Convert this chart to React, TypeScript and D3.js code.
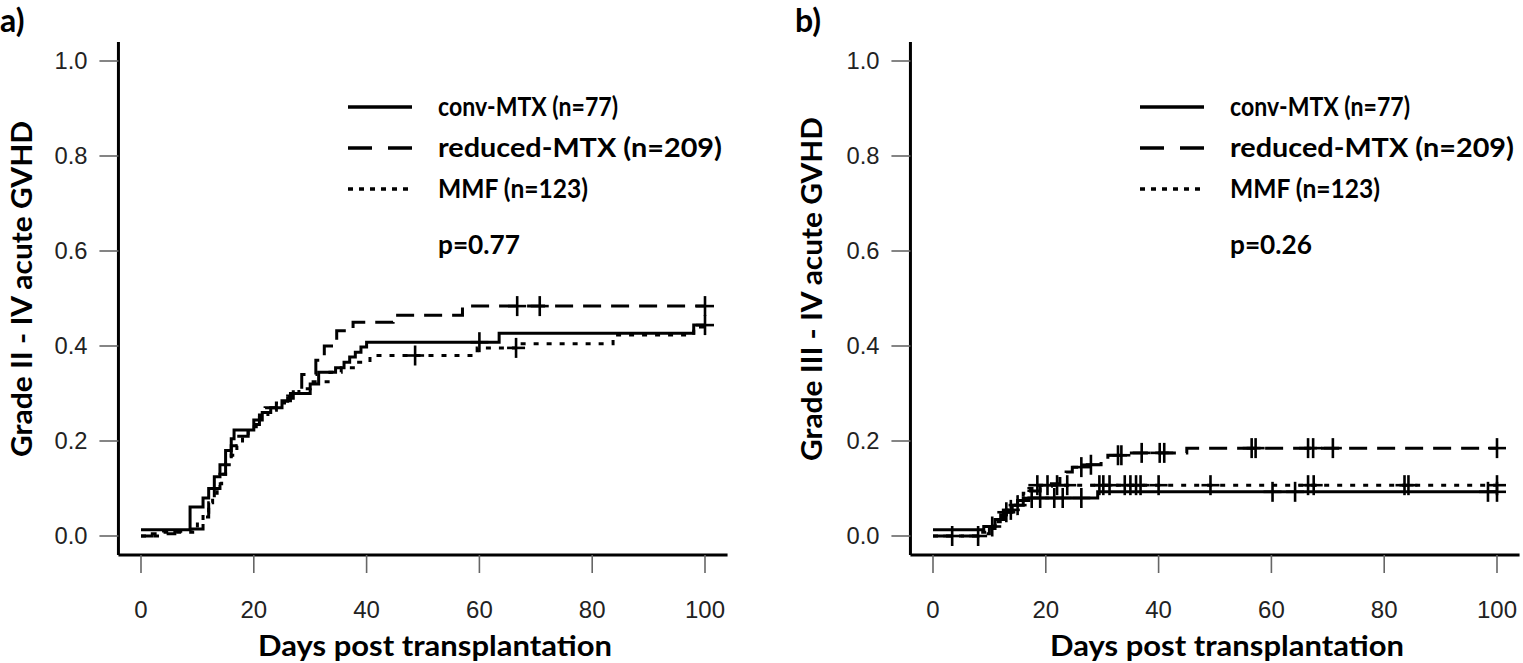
import React from "react";
import * as d3 from "d3";

// ---------- DATA ----------
const xTicks = [0, 20, 40, 60, 80, 100];
const yTicks = [0, 0.2, 0.4, 0.6, 0.8, 1.0];

const legendLabels = ["conv-MTX (n=77)", "reduced-MTX (n=209)", "MMF (n=123)"];
const panelLetters = ["a)", "b)"];
const pValues = ["p=0.77", "p=0.26"];
const yTitles = ["Grade II - IV acute GVHD", "Grade III - IV acute GVHD"];
const xTitle = "Days post transplantation";

// Panel a – step functions (day where step begins, cumulative incidence)
const aConvDays = [0, 8.7, 11, 12, 13, 14, 15, 16, 16.5, 20, 21.5, 23, 25, 26.5, 30, 31.5, 34.5, 36, 37, 38, 39, 40, 63.5, 98, 100];
const aConvCI = [0.013, 0.061, 0.08, 0.1, 0.125, 0.15, 0.18, 0.205, 0.223, 0.244, 0.26, 0.27, 0.285, 0.3, 0.32, 0.345, 0.354, 0.366, 0.377, 0.387, 0.398, 0.408, 0.427, 0.444, 0.444];
const aConvCens = [60, 100];

const aRedDays = [0, 2, 6, 9, 11, 12, 13, 14, 15, 16, 17, 19, 21, 22, 24, 26, 27, 28.5, 31, 32.5, 34.7, 37.6, 44.7, 57, 100];
const aRedCI = [0, 0.005, 0.01, 0.015, 0.04, 0.07, 0.1, 0.13, 0.16, 0.19, 0.21, 0.235, 0.255, 0.27, 0.28, 0.29, 0.31, 0.34, 0.37, 0.4, 0.432, 0.45, 0.465, 0.484, 0.484];
const aRedCens = [66.7, 70.7, 100];

const aMmfDays = [0, 4, 10, 11, 12, 12.7, 13.5, 14.3, 15, 16, 17, 18, 19, 21, 22.5, 24, 26, 28, 30, 33.5, 35.5, 38, 40.6, 59.6, 66.7, 83.7, 98, 100];
const aMmfCI = [0, 0.008, 0.03, 0.05, 0.07, 0.09, 0.11, 0.13, 0.15, 0.17, 0.19, 0.21, 0.23, 0.25, 0.265, 0.28, 0.295, 0.31, 0.325, 0.345, 0.354, 0.366, 0.38, 0.396, 0.405, 0.423, 0.44, 0.44];
const aMmfCens = [48.6, 66.5];

// Panel b
const bConvDays = [0, 9, 11, 12.5, 14, 16, 17, 29.2, 100];
const bConvCI = [0.013, 0.02, 0.035, 0.05, 0.065, 0.075, 0.08, 0.093, 0.093];
const bConvCens = [13, 15, 17.5, 19, 21.5, 23, 26.3, 60.2, 64.2, 98.4, 100];

const bRedDays = [0, 8, 10, 11, 12, 13, 14, 15, 16, 17, 19, 21, 22.5, 23.6, 24.7, 27, 29.8, 31, 34.5, 45, 100];
const bRedCI = [0, 0.005, 0.02, 0.03, 0.045, 0.055, 0.065, 0.075, 0.085, 0.095, 0.105, 0.11, 0.125, 0.135, 0.145, 0.15, 0.16, 0.17, 0.175, 0.185, 0.185];
const bRedCens = [10.5, 13.8, 26.3, 28, 32.8, 33.4, 37, 40.2, 41, 56.5, 57.2, 66.5, 67.4, 70.9, 100];

const bMmfDays = [0, 8.5, 10, 11, 12.5, 14, 15, 16, 17, 18, 100];
const bMmfCI = [0, 0.008, 0.016, 0.03, 0.045, 0.06, 0.075, 0.09, 0.1, 0.107, 0.107];
const bMmfCens = [3.4, 8, 18.5, 20.3, 22, 23.8, 29.5, 30.2, 31.3, 34, 35, 36, 36.8, 40, 49.2, 66.5, 67.5, 83.6, 84.3, 100];

// ---------- STYLE ----------
const dashes = [null, "18,10", "5,8"];
const TICK_FONT = "'Liberation Sans', Arial, sans-serif";
const TITLE_FONT = "Lato, 'Open Sans', sans-serif";

type Series = { days: number[]; ci: number[]; cens: number[] };

const panels: { series: Series[] }[] = [
  {
    series: [
      { days: aConvDays, ci: aConvCI, cens: aConvCens },
      { days: aRedDays, ci: aRedCI, cens: aRedCens },
      { days: aMmfDays, ci: aMmfCI, cens: aMmfCens },
    ],
  },
  {
    series: [
      { days: bConvDays, ci: bConvCI, cens: bConvCens },
      { days: bRedDays, ci: bRedCI, cens: bRedCens },
      { days: bMmfDays, ci: bMmfCI, cens: bMmfCens },
    ],
  },
];

function valueAt(s: Series, d: number) {
  const i = d3.bisectRight(s.days, d) - 1;
  return s.ci[Math.max(0, i)];
}

function Panel({ idx, offset }: { idx: number; offset: number }) {
  const x = d3.scaleLinear().domain([0, 100]).range([141 + offset, 705 + offset]);
  const y = d3.scaleLinear().domain([0, 1]).range([536, 61]);
  const axX = x(-4);
  const axY = y(-0.04);
  const line = d3
    .line<[number, number]>()
    .x((d) => x(d[0]))
    .y((d) => y(d[1]))
    .curve(d3.curveStepAfter);
  const p = panels[idx];
  const legX = 348 + offset;
  const legTextX = 438 + offset;
  const legY = [107, 148, 189];
  const legW = [180, 284, 150];
  return (
    <g>
      {/* axes */}
      <line x1={axX} x2={axX} y1={y(1.04)} y2={axY} stroke="#000" strokeWidth={3} />
      <line x1={axX} x2={x(104)} y1={axY} y2={axY} stroke="#000" strokeWidth={3} />
      {yTicks.map((t) => (
        <g key={"y" + t}>
          <line x1={axX - 19} x2={axX} y1={y(t)} y2={y(t)} stroke="#666" strokeWidth={1.6} />
          <text x={axX - 31} y={y(t)} dy="0.36em" textAnchor="end" fontFamily={TICK_FONT} fontSize={23} fill="#222"
            textLength={33} lengthAdjust="spacingAndGlyphs">
            {t.toFixed(1)}
          </text>
        </g>
      ))}
      {xTicks.map((t) => (
        <g key={"x" + t}>
          <line x1={x(t)} x2={x(t)} y1={axY} y2={axY + 18} stroke="#666" strokeWidth={1.6} />
          <text x={x(t)} y={609} dy="0.36em" textAnchor="middle" fontFamily={TICK_FONT} fontSize={24} fill="#222">
            {t}
          </text>
        </g>
      ))}
      {/* titles */}
      <text x={435 + offset} y={646} dy="0.35em" textAnchor="middle" fontFamily={TITLE_FONT} fontWeight="bold" fontSize={28}
        textLength={354} lengthAdjust="spacingAndGlyphs">
        {xTitle}
      </text>
      <text transform={`translate(${22 + (idx ? offset - 2 : 0)},289) rotate(-90)`} dy="0.35em" textAnchor="middle"
        fontFamily={TITLE_FONT} fontWeight="bold" fontSize={28} textLength={idx ? 344 : 336} lengthAdjust="spacingAndGlyphs">
        {yTitles[idx]}
      </text>
      <text x={idx ? 795 : 0} y={21} dy="0.35em" fontFamily={TITLE_FONT} fontWeight="bold" fontSize={32}>
        {panelLetters[idx]}
      </text>
      {/* curves */}
      {p.series.map((s, si) => (
        <g key={"s" + si}>
          <path
            d={line(s.days.map((d, i) => [d, s.ci[i]] as [number, number])) || ""}
            fill="none"
            stroke="#000"
            strokeWidth={3}
            strokeDasharray={dashes[si] || undefined}
          />
          {s.cens.map((c, ci) => {
            const cx = x(c);
            const cy = y(valueAt(s, c));
            return (
              <g key={"c" + ci} stroke="#000" strokeWidth={2.6}>
                <line x1={cx - 9} x2={cx + 9} y1={cy} y2={cy} />
                <line x1={cx} x2={cx} y1={cy - 10} y2={cy + 10} />
              </g>
            );
          })}
        </g>
      ))}
      {/* legend */}
      {legendLabels.map((l, i) => (
        <g key={"l" + i}>
          <line x1={legX} x2={legX + 64} y1={legY[i]} y2={legY[i]} stroke="#000" strokeWidth={3.5}
            strokeDasharray={i === 1 ? "24,16" : i === 2 ? "5,6" : undefined} />
          <text x={legTextX} y={legY[i]} dy="0.35em" fontFamily={TITLE_FONT} fontWeight="bold" fontSize={27}
            textLength={legW[i]} lengthAdjust="spacingAndGlyphs">
            {l}
          </text>
        </g>
      ))}
      <text x={legTextX} y={245} dy="0.35em" fontFamily={TITLE_FONT} fontWeight="bold" fontSize={27}
        textLength={82} lengthAdjust="spacingAndGlyphs">
        {pValues[idx]}
      </text>
    </g>
  );
}

export default function App() {
  return (
    <svg width={1523} height={663} style={{ position: "absolute", left: 0, top: 0, background: "#fff" }}>
      <rect width={1523} height={663} fill="#fff" />
      <Panel idx={0} offset={0} />
      <Panel idx={1} offset={792} />
    </svg>
  );
}
